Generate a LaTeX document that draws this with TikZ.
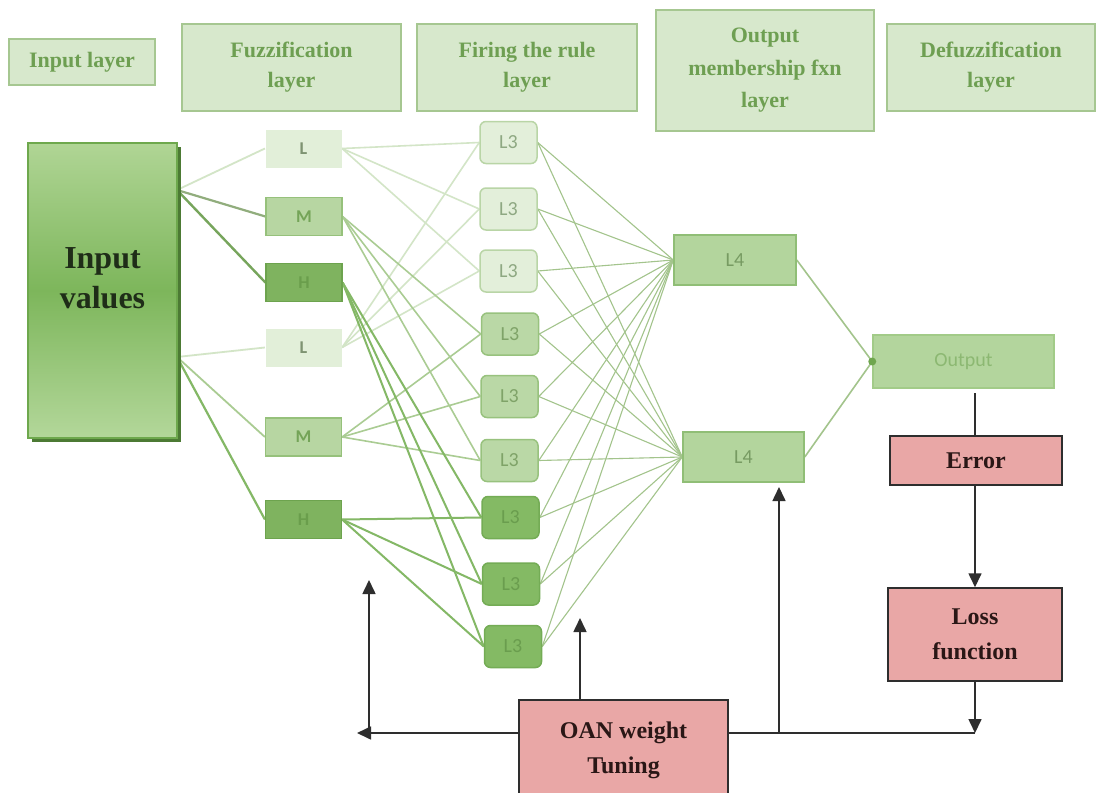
\documentclass[tikz,border=0pt]{standalone}
\usepackage{fontspec}
\setmainfont{Liberation Serif}
\newfontfamily\calfont{Carlito}
\usetikzlibrary{arrows.meta,shadows}
\pgfdeclarelayer{background}
\pgfsetlayers{background,main}

\definecolor{hdrfill}{HTML}{D7E8CC}
\definecolor{hdrline}{HTML}{A6C791}
\definecolor{hdrtext}{HTML}{6E9F52}
\definecolor{inTop}{HTML}{B0D595}
\definecolor{inMid}{HTML}{7DB65B}
\definecolor{inBot}{HTML}{B3D79A}
\definecolor{inLine}{HTML}{6EA84D}
\definecolor{inShadow}{HTML}{4C7A34}
\definecolor{inText}{HTML}{1F2D18}
\definecolor{fLfill}{HTML}{E2EFD9}
\definecolor{fLtext}{HTML}{7E9372}
\definecolor{fMfill}{HTML}{B7D6A2}
\definecolor{fMline}{HTML}{96C17B}
\definecolor{fMtext}{HTML}{74A458}
\definecolor{fHfill}{HTML}{7FB35F}
\definecolor{fHline}{HTML}{6DA34E}
\definecolor{fHtext}{HTML}{6A9E4C}
\definecolor{rLfill}{HTML}{E3EFDA}
\definecolor{rLline}{HTML}{B9D5A6}
\definecolor{rLtext}{HTML}{8EA882}
\definecolor{rMfill}{HTML}{BAD8A6}
\definecolor{rMline}{HTML}{98C27E}
\definecolor{rMtext}{HTML}{7FA368}
\definecolor{rHfill}{HTML}{84BA64}
\definecolor{rHline}{HTML}{74AC55}
\definecolor{rHtext}{HTML}{6A9D4E}
\definecolor{l4fill}{HTML}{B3D59D}
\definecolor{l4line}{HTML}{90BE76}
\definecolor{l4text}{HTML}{779B62}
\definecolor{outline}{HTML}{A2CB88}
\definecolor{outtext}{HTML}{8CB872}
\definecolor{pinkfill}{HTML}{E9A7A6}
\definecolor{pinktext}{HTML}{2A1716}
\definecolor{darkline}{HTML}{2E2E2E}
\definecolor{lnL}{HTML}{D3E5C7}
\definecolor{lnM}{HTML}{AACC93}
\definecolor{lnH}{HTML}{84B866}
\definecolor{lnR}{HTML}{A3C48C}
\definecolor{dotgreen}{HTML}{6FA64E}

\tikzset{
  hdr/.style={draw=hdrline, fill=hdrfill, line width=1.5pt, text=hdrtext,
    align=center, inner sep=0pt,
    font=\bfseries\fontsize{22}{30}\selectfont},
  fz/.style={minimum width=76pt, minimum height=38pt, inner sep=0pt,
    line width=1.2pt, font=\calfont\bfseries\fontsize{18}{18}\selectfont},
  fzL/.style={fz, fill=fLfill, text=fLtext},
  fzM/.style={fz, fill=fMfill, draw=fMline, text=fMtext},
  fzH/.style={fz, fill=fHfill, draw=fHline, text=fHtext},
  rule/.style={minimum width=57pt, minimum height=42pt, inner sep=0pt,
    rounded corners=6pt, line width=1.5pt,
    font=\calfont\fontsize{20}{20}\selectfont},
  ruleL/.style={rule, fill=rLfill, draw=rLline, text=rLtext},
  ruleM/.style={rule, fill=rMfill, draw=rMline, text=rMtext},
  ruleH/.style={rule, fill=rHfill, draw=rHline, text=rHtext},
  outbox/.style={minimum height=50pt, inner sep=0pt, line width=1.5pt,
    fill=l4fill, draw=l4line, text=l4text,
    font=\calfont\fontsize{20}{20}\selectfont},
  pinkbox/.style={fill=pinkfill, draw=darkline, line width=1.5pt,
    text=pinktext, align=center, inner sep=0pt,
    font=\bfseries\fontsize{24}{35}\selectfont},
  flow/.style={draw=darkline, line width=1.6pt},
  flowarrow/.style={flow, -{Triangle[length=14pt,width=13pt]}},
  wire/.style={line width=#1},
  wire/.default=1.6pt
}

\begin{document}
\begin{tikzpicture}[x=1pt,y=-1pt]
\useasboundingbox (0,0) rectangle (1097,792);

% layer headings
\node[hdr, minimum width=146pt, minimum height=46pt] (hin) at (82,62) {Input layer};
\node[hdr, minimum width=219pt, minimum height=87pt] (hfz) at (291.5,67.5) {Fuzzification\\layer};
\node[hdr, minimum width=220pt, minimum height=87pt] (hfr) at (527,67.5) {Firing the rule\\layer};
\node[hdr, minimum width=218pt, minimum height=121pt,
      font=\bfseries\fontsize{22}{32.5}\selectfont] (hom) at (765,70.5) {Output\\membership fxn\\layer};
\node[hdr, minimum width=208pt, minimum height=87pt] (hdf) at (991,67.5) {Defuzzification\\layer};

% input block
\node[minimum width=149pt, minimum height=295pt, inner sep=0pt,
      top color=inTop, bottom color=inBot, middle color=inMid,
      draw=inLine, line width=1.2pt,
      drop shadow={shadow xshift=3.5pt, shadow yshift=-3.5pt, fill=inShadow, opacity=1}]
      (inp) at (102.5,290.5) {};
\node[text=inText, align=center, inner sep=0pt,
      font=\bfseries\fontsize{32}{40}\selectfont] (inptxt) at (102.5,278) {Input\\values};

% fuzzification nodes
\node[fzL] (fL1) at (303.5,148.5) {L};
\node[fzM] (fM1) at (304,216.5) {M};
\node[fzH] (fH1) at (304,282.5) {H};
\node[fzL] (fL2) at (303.5,347.5) {L};
\node[fzM] (fM2) at (303.5,437) {M};
\node[fzH] (fH2) at (303.5,519.5) {H};

% rule nodes
\node[ruleL] (r1) at (508.5,142.5) {L3};
\node[ruleL] (r2) at (508.5,209) {L3};
\node[ruleL] (r3) at (508.5,271) {L3};
\node[ruleM] (r4) at (510,334) {L3};
\node[ruleM] (r5) at (509.5,396.5) {L3};
\node[ruleM] (r6) at (509.5,460.5) {L3};
\node[ruleH] (r7) at (510.5,517.5) {L3};
\node[ruleH] (r8) at (511,584) {L3};
\node[ruleH] (r9) at (513,646.5) {L3};

% output membership nodes
\node[outbox, minimum width=122pt] (l4a) at (735,260) {L4};
\node[outbox, minimum width=121pt] (l4b) at (743.5,457) {L4};

% defuzzified output
\node[outbox, minimum width=181pt, minimum height=53pt, draw=outline, text=outtext] (out) at (963.5,361.5) {Output};

% training loop blocks
\node[pinkbox, minimum width=172pt, minimum height=49pt] (err) at (976,460.5) {Error};
\node[pinkbox, minimum width=174pt, minimum height=93pt] (loss) at (975,634.5) {Loss\\function};
\node[pinkbox, minimum width=209pt, minimum height=100pt] (oan) at (623.5,750) {OAN weight\\Tuning};

% network wiring, kept behind the boxes
\begin{pgfonlayer}{background}
  \fill[white] (0,0) rectangle (1097,792);
  \coordinate (iu) at (177,190);
  \coordinate (il) at (177,357);
  \draw[wire=1.8pt, lnL] (iu) -- (fL1.west);
  \draw[wire=2.2pt, lnM!85!black] (iu) -- (fM1.west);
  \draw[wire=2.4pt, lnH!90!black] (iu) -- (fH1.west);
  \draw[wire=1.8pt, lnL] (il) -- (fL2.west);
  \draw[wire=1.8pt, lnM] (il) -- (fM2.west);
  \draw[wire=2.2pt, lnH] (il) -- (fH2.west);

  \foreach \src/\col/\w/\a/\b/\c in {fL1/lnL/1.6pt/1/2/3, fL2/lnL/1.6pt/1/2/3,
      fM1/lnM/1.6pt/4/5/6, fM2/lnM/1.6pt/4/5/6,
      fH1/lnH/2pt/7/8/9, fH2/lnH/2pt/7/8/9}
    \foreach \t in {\a,\b,\c}
      \draw[wire=\w, \col] (\src.east) -- (r\t.west);

  \foreach \i in {1,...,9} {
    \draw[wire=1.1pt, lnR] (r\i.east) -- (l4a.west);
    \draw[wire=1.1pt, lnR] (r\i.east) -- (l4b.west);
  }

  \draw[wire=1.6pt, lnR] (l4a.east) -- (out.west);
  \draw[wire=1.6pt, lnR] (l4b.east) -- (out.west);
\end{pgfonlayer}
\fill[dotgreen] (out.west) circle (4pt);

% feedback path
\coordinate (obot) at (975,393);
\coordinate (corner) at (975,733);
\coordinate (lefttip) at (357,733);
\coordinate (lup) at (369,580);
\coordinate (mup) at (580,618);
\coordinate (rup) at (779,487);

\draw[flow] (obot) -- (err.north -| obot);
\draw[flowarrow] (err.south -| obot) -- (loss.north -| obot);
\draw[flowarrow] (loss.south -| corner) -- (corner);
\draw[flow] (corner) -- (corner -| oan.east);
\draw[flowarrow] (corner -| oan.west) -- (lefttip);
\draw[flowarrow] (lup |- corner) -- (lup);
\draw[flowarrow] (mup |- oan.north) -- (mup);
\draw[flowarrow] (rup |- corner) -- (rup);
\end{tikzpicture}
\end{document}
